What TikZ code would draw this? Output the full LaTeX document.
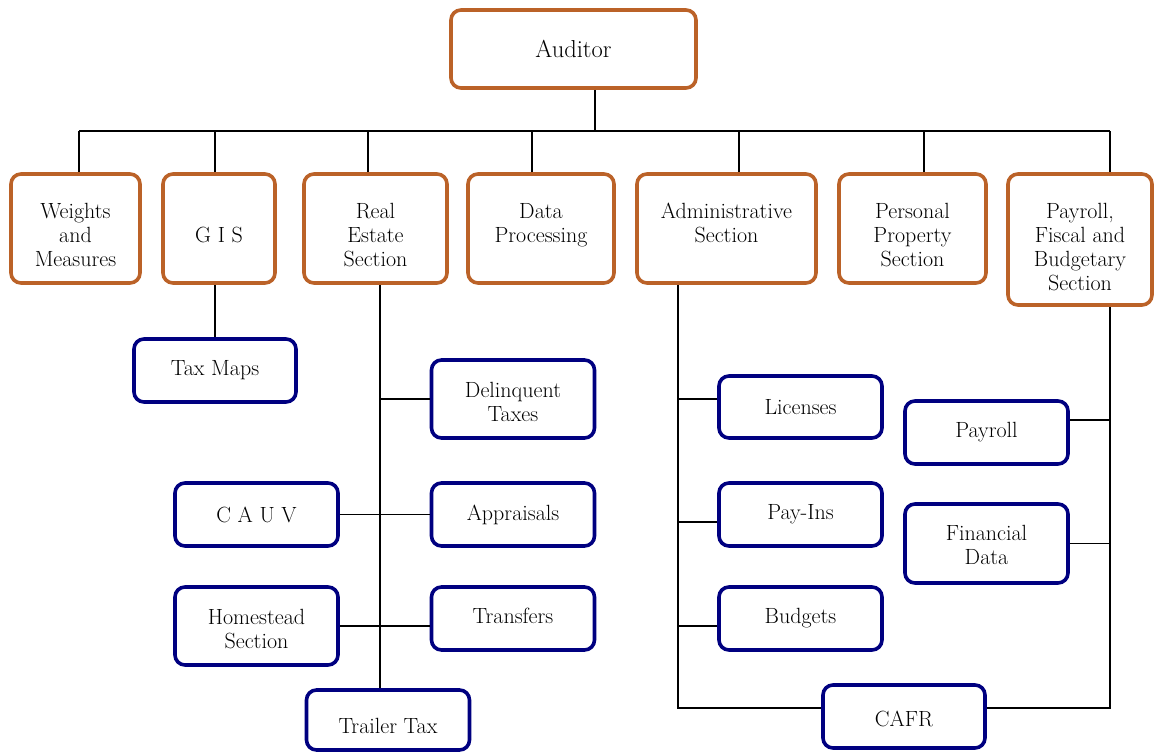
\documentclass[tikz,border=0pt]{standalone}
\usepackage{fontspec}
\definecolor{orgbox}{RGB}{187,98,40}
\definecolor{navybox}{RGB}{0,0,128}
\newcommand{\pushdown}[1]{\rule{0pt}{#1}}
\begin{document}
\begin{tikzpicture}[x=1pt,y=-1pt,
  base/.style={rectangle, rounded corners=10pt, line width=3.6pt, fill=white, align=center, inner sep=0pt,
    font=\fontsize{22}{24}\selectfont, text=black},
  obox/.style={base, draw=orgbox, minimum height=109pt},
  nbox/.style={base, draw=navybox, minimum width=163pt, minimum height=63pt},
  conn/.style={line width=1.2pt, black}]
\useasboundingbox (0,0) rectangle (1154,754);

% top
\node[base, draw=orgbox, minimum width=245pt, minimum height=78pt, font=\fontsize{24.5}{28}\selectfont] (aud) at (573.5,49) {Auditor};

% second row
\node[obox, minimum width=129pt] (wm) at (75.5,228.5) {\pushdown{29pt}Weights\\and\\Measures};
\node[obox, minimum width=112pt] (gis) at (219,228.5) {\pushdown{29pt}G I S};
\node[obox, minimum width=143pt] (re) at (375.5,228.5) {\pushdown{29pt}Real\\Estate\\Section};
\node[obox, minimum width=146pt] (dp) at (541,228.5) {Data\\Processing\rule[-12pt]{0pt}{1pt}};
\node[obox, minimum width=179pt] (adm) at (726.5,228.5) {Administrative\\Section\rule[-12pt]{0pt}{1pt}};
\node[obox, minimum width=147pt] (pp) at (912.5,228.5) {\pushdown{29pt}Personal\\Property\\Section};
\node[obox, minimum width=144pt, minimum height=131pt] (pfb) at (1080,239.5) {\pushdown{31pt}Payroll,\\Fiscal and\\Budgetary\\Section};

% children
\node[nbox, minimum width=162pt] (tm) at (215,370.5) {Tax Maps};
\node[nbox, minimum height=78pt] (dt) at (513,399) {\pushdown{21pt}Delinquent\\Taxes};
\node[nbox] (ap) at (513,514.5) {Appraisals};
\node[nbox] (cauv) at (256.5,514.5) {C A U V};
\node[nbox] (tr) at (513,618.5) {Transfers\rule[-5pt]{0pt}{1pt}};
\node[nbox, minimum height=78pt] (hs) at (256.5,626) {\pushdown{21pt}Homestead\\Section};
\node[nbox, minimum height=60pt] (tt) at (388,720) {\pushdown{27pt}Trailer Tax};
\node[nbox, minimum height=62pt] (lic) at (800.5,407) {Licenses};
\node[nbox] (pi) at (800.5,514.5) {Pay-Ins};
\node[nbox] (bud) at (800.5,618.5) {Budgets};
\node[nbox] (pay) at (986.5,432.5) {Payroll};
\node[nbox, minimum height=79pt] (fd) at (986.5,543.5) {\pushdown{19pt}Financial\\Data};
\node[nbox, minimum width=162pt] (cafr) at (904,716.5) {\pushdown{21pt}CAFR};

% bus
\coordinate (busL) at ([xshift=3.5]wm.north |- 0,131);
\coordinate (busR) at ([xshift=30]pfb.north |- 0,131);
\draw[conn] (busL) -- (busR);
\draw[conn] ([xshift=21.5]aud.south) -- ([xshift=21.5]aud.south |- busL);
\draw[conn] ([xshift=3.5]wm.north) -- (busL);
\draw[conn] ([xshift=-4]gis.north) -- ([xshift=-4]gis.north |- busL);
\draw[conn] ([xshift=-7.5]re.north) -- ([xshift=-7.5]re.north |- busL);
\draw[conn] ([xshift=-9]dp.north) -- ([xshift=-9]dp.north |- busL);
\draw[conn] ([xshift=12.5]adm.north) -- ([xshift=12.5]adm.north |- busL);
\draw[conn] ([xshift=11.5]pp.north) -- ([xshift=11.5]pp.north |- busL);
\draw[conn] ([xshift=30]pfb.north) -- (busR);

% GIS
\draw[conn] ([xshift=-4]gis.south) -- (tm.north);

% Real estate
\coordinate (reTop) at ([xshift=4.5]re.south);
\draw[conn] (reTop) -- (reTop |- tt.north);
\draw[conn] (dt.west) -- (dt.west -| reTop);
\draw[conn] (cauv.east) -- (ap.west);
\draw[conn] (hs.east) -- (hs.east -| tr.west);

% Administrative
\coordinate (admTop) at ([xshift=-48.5]adm.south);
\draw[conn] (admTop) |- ([yshift=8.5]cafr.west);
\draw[conn] ([yshift=8]lic.west) -- ([yshift=8]lic.west -| admTop);
\draw[conn] ([yshift=-7.5]pi.west) -- ([yshift=-7.5]pi.west -| admTop);
\draw[conn] ([yshift=-7.5]bud.west) -- ([yshift=-7.5]bud.west -| admTop);

% Payroll section
\coordinate (pfbBot) at ([xshift=30]pfb.south);
\draw[conn] ([yshift=8.5]cafr.east) -| (pfbBot);
\draw[conn] ([yshift=12.5]pay.east) -- ([yshift=12.5]pay.east -| pfbBot);
\draw[conn] (fd.east) -- (fd.east -| pfbBot);
\end{tikzpicture}
\end{document}
